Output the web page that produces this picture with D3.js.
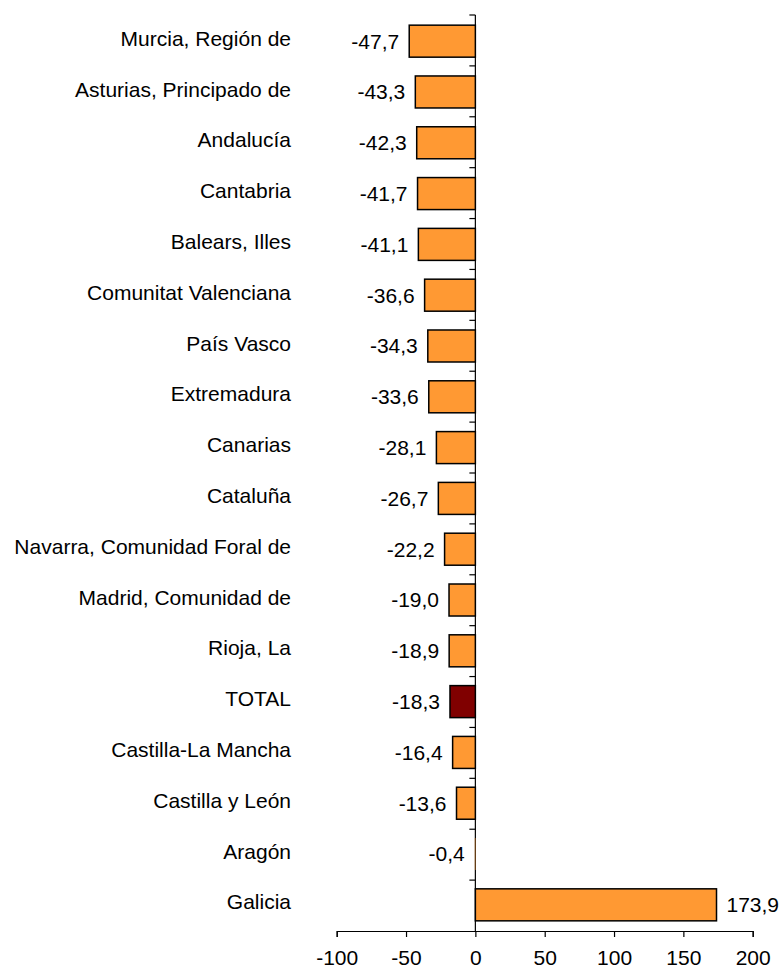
<!DOCTYPE html>
<html>
<head>
<meta charset="utf-8">
<script src="https://cdn.jsdelivr.net/npm/d3@7"></script>
<style>
  body { margin: 0; background: #fff; }
  text { font-family: "Liberation Sans", Arial, sans-serif; fill: #000; }
</style>
</head>
<body>
<div id="chart"></div>
<script>
'use strict';

const regions = [
    'Murcia, Región de',
    'Asturias, Principado de',
    'Andalucía',
    'Cantabria',
    'Balears, Illes',
    'Comunitat Valenciana',
    'País Vasco',
    'Extremadura',
    'Canarias',
    'Cataluña',
    'Navarra, Comunidad Foral de',
    'Madrid, Comunidad de',
    'Rioja, La',
    'TOTAL',
    'Castilla-La Mancha',
    'Castilla y León',
    'Aragón',
    'Galicia'
]

const values = [
    -47.7, -43.3, -42.3, -41.7, -41.1, -36.6, -34.3, -33.6, -28.1,
    -26.7, -22.2, -19.0, -18.9, -18.3, -16.4, -13.6, -0.4, 173.9
]

const xTicks = [-100, -50, 0, 50, 100, 150, 200]

function buildChart() {

    const width = 781;
    const height = 969;

    const left = 336.7;
    const right = 752.7;
    const top = 15;
    const bottom = 931;

    const fontSize = 21;

    const data = regions.map((name, i) => ({ name, value: values[i] }));

    const svg = d3.select('#chart')
        .append('svg')
            .attr('width', width)
            .attr('height', height);

    const x = d3.scaleLinear()
        .domain([-100, 200])
        .range([left, right]);

    const y = d3.scaleBand()
        .domain(regions)
        .range([top, bottom])
        .paddingInner(0.37)
        .paddingOuter(0.2);

    // plain hyphen and decimal comma, like the original
    const label = (v) => v.toFixed(1).replace('.', ',');
    const tickLabel = (v) => String(v);

    // x axis
    const xAxis = svg.append('g')
        .attr('transform', `translate(0,${bottom})`)
        .call(d3.axisBottom(x).tickValues(xTicks).tickSize(6).tickPadding(13).tickFormat(tickLabel));
    xAxis.select('.domain').attr('stroke', '#000').attr('stroke-width', 1.2);
    xAxis.selectAll('.tick line').attr('stroke', '#000').attr('stroke-width', 1.2);
    xAxis.selectAll('.tick text')
        .attr('font-size', fontSize)
        .attr('font-family', '"Liberation Sans", Arial, sans-serif');

    // zero line with category ticks
    const step = (bottom - top) / regions.length;
    const zero = svg.append('g');
    zero.append('line')
        .attr('x1', x(0)).attr('x2', x(0))
        .attr('y1', top).attr('y2', bottom)
        .attr('stroke', '#000')
        .attr('stroke-width', 1.2);
    zero.selectAll('line.tick')
        .data(d3.range(regions.length))
        .enter()
        .append('line')
            .attr('class', 'tick')
            .attr('x1', x(0) - 6).attr('x2', x(0))
            .attr('y1', i => top + i * step)
            .attr('y2', i => top + i * step)
            .attr('stroke', '#000')
            .attr('stroke-width', 1.2);

    // bars
    svg.append('g')
        .selectAll('rect')
        .data(data)
            .enter()
            .append('rect')
                .attr('x', d => x(Math.min(0, d.value)))
                .attr('y', d => y(d.name))
                .attr('width', d => Math.abs(x(d.value) - x(0)))
                .attr('height', y.bandwidth())
                .attr('fill', d => d.name === 'TOTAL' ? '#800000' : '#ff9933')
                .attr('stroke', '#000')
                .attr('stroke-width', d => Math.abs(d.value) < 1 ? 0 : 1.5);

    // value labels
    svg.append('g')
        .selectAll('text')
        .data(data)
            .enter()
            .append('text')
                .attr('x', d => d.value < 0 ? x(d.value) - 10 : x(d.value) + 10)
                .attr('y', d => y(d.name) + y.bandwidth() / 2)
                .attr('dy', '0.35em')
                .attr('text-anchor', d => d.value < 0 ? 'end' : 'start')
                .attr('font-size', fontSize)
                .text(d => label(d.value));

    // category labels
    svg.append('g')
        .selectAll('text')
        .data(data)
            .enter()
            .append('text')
                .attr('x', 291)
                .attr('y', d => y(d.name) + y.bandwidth() / 2)
                .attr('dy', '0.22em')
                .attr('text-anchor', 'end')
                .attr('font-size', fontSize)
                .text(d => d.name);
}

window.addEventListener('DOMContentLoaded', () => {
    buildChart();
});
</script>
</body>
</html>
